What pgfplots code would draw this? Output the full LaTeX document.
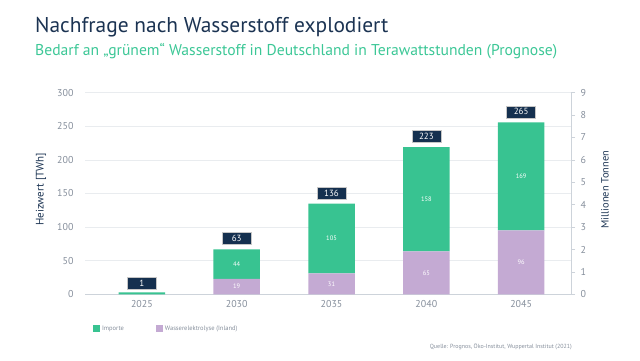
\documentclass[border=0pt]{standalone}
\usepackage{pgfplots}
\usepackage{pgfplotstable}
\pgfplotsset{compat=1.18}
\usepackage{fontspec}
\setmainfont{PT Sans}
\definecolor{navy}{HTML}{1B3352}
\definecolor{hgreen}{HTML}{38C391}
\definecolor{hpurple}{HTML}{C4AAD3}
\definecolor{tickgray}{HTML}{858E9B}
\definecolor{gridgray}{HTML}{E9ECEF}
\definecolor{axisgray}{HTML}{CDD3DA}
\definecolor{boxnavy}{HTML}{15304F}
\definecolor{subgreen}{HTML}{3CC796}

\pgfplotstableread{
x purple green
0 0 3
1 23 44
2 31 104
3 64 155
4 95 161
}\bars
\pgfplotstableread{
x y lab
1 11.5 19
2 15.5 31
3 31.5 65
4 47.5 96
}\plabels
\pgfplotstableread{
x y lab
1 45 44
2 83 105
3 141.5 158
4 175.5 169
}\glabels
\pgfplotstableread{
x y lab
0 16 1
1 83.5 63
2 150.5 136
3 234.5 223
4 271.5 265
}\totals

\begin{document}
\begin{tikzpicture}[x=1bp,y=1bp]
\path[use as bounding box] (0,0) rectangle (640,360);
\node[anchor=base west, inner sep=0pt, text=navy, font=\fontsize{21.5}{25}\selectfont] at (35,328) {Nachfrage nach Wasserstoff explodiert};
\node[anchor=base west, inner sep=0pt, text=subgreen, font=\fontsize{15.7}{18}\selectfont] at (35,305) {Bedarf an „grünem“ Wasserstoff in Deutschland in Terawattstunden (Prognose)};
\node[anchor=base east, inner sep=0pt, text=tickgray, font=\fontsize{6}{7}\selectfont] at (572,12) {Quelle: Prognos, Öko-Institut, Wuppertal Institut (2021)};

\pgfplotsset{common/.style={
  scale only axis, width=486bp, height=201.6bp,
  at={(85bp,65.7bp)}, anchor=south west,
  xmin=-0.6, xmax=4.526,
  /pgf/number format/assume math mode=true,
}}

\begin{axis}[common,
  ymin=0, ymax=300, ytick={0,50,...,300},
  ymajorgrids, grid style={gridgray, line width=0.8bp},
  axis x line*=bottom, axis y line*=left,
  y axis line style={draw=none},
  x axis line style={axisgray, line width=1.6bp},
  major tick length=0pt,
  xtick=data, xticklabels={2025,2030,2035,2040,2045},
  ticklabel style={text=tickgray, font=\fontsize{10}{12}\selectfont},
  yticklabel style={xshift=-8bp},
  xticklabel style={yshift=-3bp},
  ybar stacked, bar width=46.5bp,
  ylabel={Heizwert [TWh]},
  ylabel style={at={(rel axis cs:-0.0905,0.52)}, anchor=center, text=navy, font=\fontsize{11}{13}\selectfont},
  legend columns=2, reverse legend,
  legend style={at={(rel axis cs:0.01,-0.17)}, anchor=west, draw=none, fill=none,
    font=\fontsize{6.5}{8}\selectfont, text=tickgray,
    /tikz/every even column/.append style={column sep=30bp}},
  legend image code/.code={\fill[#1] (0bp,-3.5bp) rectangle (7bp,3.5bp);},
]
\addplot[fill=hpurple, draw=none] table[x=x, y=purple] {\bars};
\addlegendentry{Wasserelektrolyse (Inland)}
\addplot[fill=hgreen, draw=none] table[x=x, y=green] {\bars};
\addlegendentry{Importe}
\end{axis}

\begin{axis}[common,
  ymin=0, ymax=9, ytick={0,...,9},
  axis x line=none, axis y line*=right,
  y axis line style={axisgray, line width=0.8bp},
  ytick style={axisgray, line width=0.8bp},
  tick align=outside, major tick length=4bp,
  yticklabel style={text=tickgray, font=\fontsize{10}{12}\selectfont, xshift=2bp},
  ylabel={Millionen Tonnen},
  ylabel style={at={(rel axis cs:1.07,0.52)}, anchor=center, rotate=0, text=navy, font=\fontsize{10.5}{12}\selectfont},
]
\end{axis}

\begin{axis}[common, ymin=0, ymax=300, hide axis, clip=false]
\addplot[draw=none, mark=none,
  nodes near coords, point meta=explicit symbolic,
  every node near coord/.append style={anchor=center, text=white, font=\fontsize{6.5}{8}\selectfont}]
  table[x=x, y=y, meta=lab] {\plabels};
\addplot[draw=none, mark=none,
  nodes near coords, point meta=explicit symbolic,
  every node near coord/.append style={anchor=center, text=white, font=\fontsize{6.5}{8}\selectfont}]
  table[x=x, y=y, meta=lab] {\glabels};
\addplot[draw=none, mark=none,
  nodes near coords, point meta=explicit symbolic,
  every node near coord/.append style={anchor=center, text=white, fill=boxnavy, draw=gray!45, line width=0.5bp,
    minimum width=29bp, minimum height=12bp, inner sep=0pt, font=\fontsize{9}{10}\selectfont}]
  table[x=x, y=y, meta=lab] {\totals};
\end{axis}
\end{tikzpicture}
\end{document}
